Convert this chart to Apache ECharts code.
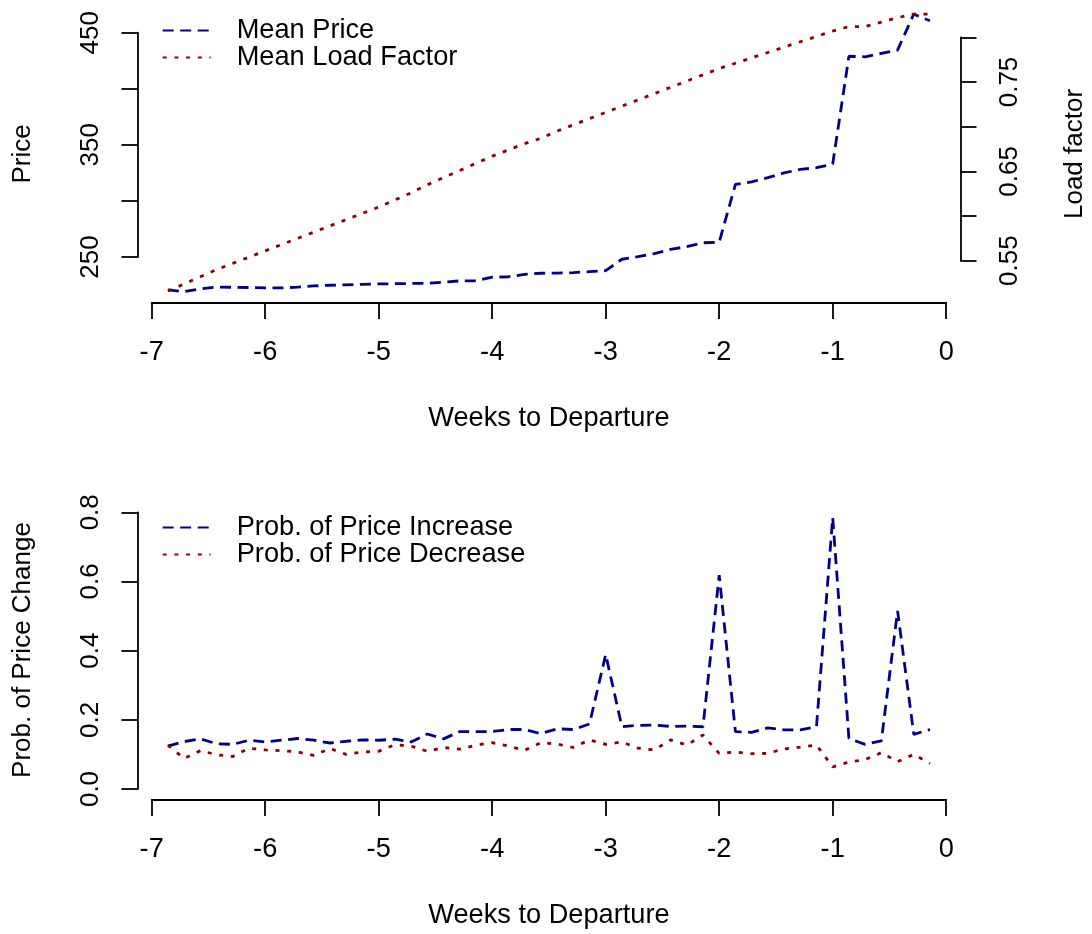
<!DOCTYPE html>
<html>
<head>
<meta charset="utf-8">
<script src="https://cdn.jsdelivr.net/npm/echarts@6/dist/echarts.min.js"></script>
<style>
  html, body { margin: 0; padding: 0; background: #fff; }
  #chart { width: 1092px; height: 934px; }
</style>
</head>
<body>
<div id="chart"></div>
<script>
// Days before departure, one observation per day (48 .. 1)
const daysToDeparture = [48, 47, 46, 45, 44, 43, 42, 41, 40, 39, 38, 37, 36, 35, 34, 33,
  32, 31, 30, 29, 28, 27, 26, 25, 24, 23, 22, 21, 20, 19, 18, 17,
  16, 15, 14, 13, 12, 11, 10, 9, 8, 7, 6, 5, 4, 3, 2, 1];

// Upper panel: mean fare and mean load factor
const meanPrice = [220.6, 219.1, 221.5, 223.2, 223.0, 222.8, 222.5, 222.4, 223.2, 224.2,
  224.8, 225.2, 225.6, 226.0, 226.2, 226.4, 226.5, 227.5, 228.7, 228.8,
  232.0, 232.4, 234.5, 235.5, 235.7, 236.0, 237.0, 237.8, 248.0, 250.3,
  253.0, 256.8, 259.2, 262.7, 263.1, 314.8, 317.0, 320.7, 325.0, 328.1,
  329.6, 332.9, 429.0, 428.5, 431.5, 434.5, 466.6, 460.6];

const meanLoadFactor = [0.516, 0.524, 0.532, 0.540, 0.547, 0.554, 0.561, 0.568, 0.575, 0.582,
  0.589, 0.596, 0.603, 0.610, 0.618, 0.626, 0.635, 0.643, 0.651, 0.659,
  0.667, 0.674, 0.681, 0.687, 0.695, 0.702, 0.709, 0.716, 0.723, 0.730,
  0.737, 0.744, 0.751, 0.758, 0.765, 0.771, 0.777, 0.783, 0.789, 0.795,
  0.801, 0.807, 0.812, 0.812, 0.817, 0.822, 0.826, 0.826];

// Lower panel: daily probability of a fare increase / decrease
const probIncrease = [0.124, 0.137, 0.145, 0.131, 0.129, 0.141, 0.136, 0.141, 0.146, 0.141,
  0.133, 0.138, 0.142, 0.141, 0.144, 0.136, 0.159, 0.145, 0.166, 0.166,
  0.166, 0.172, 0.172, 0.160, 0.174, 0.172, 0.188, 0.389, 0.180, 0.184,
  0.185, 0.181, 0.182, 0.180, 0.618, 0.166, 0.164, 0.177, 0.171, 0.171,
  0.180, 0.785, 0.146, 0.129, 0.139, 0.515, 0.158, 0.172];

const probDecrease = [0.127, 0.088, 0.111, 0.099, 0.094, 0.118, 0.113, 0.111, 0.107, 0.097,
  0.117, 0.100, 0.107, 0.109, 0.128, 0.124, 0.109, 0.120, 0.115, 0.127,
  0.134, 0.124, 0.112, 0.134, 0.130, 0.120, 0.142, 0.129, 0.136, 0.118,
  0.113, 0.142, 0.127, 0.156, 0.103, 0.107, 0.102, 0.103, 0.116, 0.121,
  0.127, 0.064, 0.078, 0.085, 0.105, 0.079, 0.100, 0.074];

// Tick labels that are printed (the remaining ticks stay unlabelled)
const priceTickLabels = ['250', '350', '450'];
const loadTickLabels = ['0.55', '0.65', '0.75'];
const probTickLabels = ['0.0', '0.2', '0.4', '0.6', '0.8'];
const weekTickLabels = ['-7', '-6', '-5', '-4', '-3', '-2', '-1', '0'];

const BLUE = '#00008B';
const RED = '#8B0000';
const FONT = "'Liberation Sans', Arial, Helvetica, sans-serif";
const FS_H = 27.2;   // horizontal text
const FS_V = 26;     // text running along the vertical axes

const weeks = daysToDeparture.map(d => -d / 7);
const pairs = vals => vals.map((v, i) => [weeks[i], v]);

const axisLine = { show: true, onZero: false, lineStyle: { color: '#000', width: 1.8 } };
const axisTick = { show: true, length: 16, lineStyle: { color: '#000', width: 1.8 } };
const txtH = { color: '#000', fontSize: FS_H, fontFamily: FONT };
const txtV = { color: '#000', fontSize: FS_V, fontFamily: FONT };

function weekAxis(gridIndex, offset) {
  return {
    gridIndex, type: 'value', min: -7, max: 0, interval: 1, position: 'bottom', offset,
    axisLine, axisTick, splitLine: { show: false },
    axisLabel: Object.assign({ margin: 36, formatter: v => {
      const s = String(Math.round(v));
      return weekTickLabels.includes(s) ? s : '';
    } }, txtH),
    name: 'Weeks to Departure', nameLocation: 'middle', nameGap: 102,
    nameTextStyle: txtH
  };
}

const dashed = [11, 6.5];
const dotted = [4, 7.7];

function legendFor(names, top) {
  return {
    data: names,
    orient: 'vertical', left: 161.7, top, padding: 0, itemGap: 0,
    itemWidth: 48, itemHeight: 26, selectedMode: false,
    itemStyle: { opacity: 0 },
    textStyle: Object.assign({ lineHeight: 26, padding: [0, 0, 0, 21] }, txtH)
  };
}

function lineSeries(name, values, axisIndex, yAxisIndex, color, dash) {
  return {
    name, type: 'line', xAxisIndex: axisIndex, yAxisIndex,
    data: pairs(values), symbol: 'none', clip: false,
    lineStyle: { color, width: 2.8, type: dash, cap: 'butt' },
    itemStyle: { color }
  };
}

function verticalTitle(text, x, y) {
  return {
    type: 'text', x, y, rotation: Math.PI / 2,
    style: { text, fill: '#000', font: FS_V + 'px ' + FONT, align: 'center', verticalAlign: 'middle' }
  };
}

const option = {
  animation: false,
  backgroundColor: '#fff',
  grid: [
    { left: 151.7, right: 145.8, top: 32.7, height: 224.3, containLabel: false, outerBoundsMode: 'none' },
    { left: 151.7, right: 145.8, top: 37.3, height: 223.4, containLabel: false, outerBoundsMode: 'none' },
    { left: 151.7, right: 145.8, top: 512.3, height: 276.7, containLabel: false, outerBoundsMode: 'none' }
  ],
  xAxis: [
    weekAxis(0, 46),
    { gridIndex: 1, type: 'value', min: -7, max: 0, show: false },
    weekAxis(2, 11)
  ],
  yAxis: [
    {
      gridIndex: 0, type: 'value', position: 'left', offset: 14.3,
      min: 250, max: 450, interval: 50,
      axisLine, axisTick, splitLine: { show: false },
      axisLabel: Object.assign({ rotate: 90, margin: 34, formatter: v => {
        const s = String(Math.round(v));
        return priceTickLabels.includes(s) ? s : '';
      } }, txtV)
    },
    {
      gridIndex: 1, type: 'value', position: 'right', offset: 14.3,
      min: 0.55, max: 0.80, interval: 0.05,
      axisLine, axisTick, splitLine: { show: false },
      axisLabel: Object.assign({ rotate: 90, margin: 36, formatter: v => {
        const s = v.toFixed(2);
        return loadTickLabels.includes(s) ? s : '';
      } }, txtV)
    },
    {
      gridIndex: 2, type: 'value', position: 'left', offset: 14.3,
      min: 0, max: 0.8, interval: 0.2,
      axisLine, axisTick, splitLine: { show: false },
      axisLabel: Object.assign({ rotate: 90, margin: 34, formatter: v => {
        const s = v.toFixed(1);
        return probTickLabels.includes(s) ? s : '';
      } }, txtV)
    }
  ],
  legend: [
    legendFor(['Mean Price', 'Mean Load Factor'], 17),
    legendFor(['Prob. of Price Increase', 'Prob. of Price Decrease'], 514)
  ],
  series: [
    lineSeries('Mean Price', meanPrice, 0, 0, BLUE, dashed),
    lineSeries('Mean Load Factor', meanLoadFactor, 1, 1, RED, dotted),
    lineSeries('Prob. of Price Increase', probIncrease, 2, 2, BLUE, dashed),
    lineSeries('Prob. of Price Decrease', probDecrease, 2, 2, RED, dotted)
  ],
  graphic: [
    verticalTitle('Price', 23, 154),
    verticalTitle('Load factor', 1075, 154),
    verticalTitle('Prob. of Price Change', 23, 650)
  ]
};

const chart = echarts.init(document.getElementById('chart'), null, { renderer: 'canvas' });
chart.setOption(option);
</script>
</body>
</html>
